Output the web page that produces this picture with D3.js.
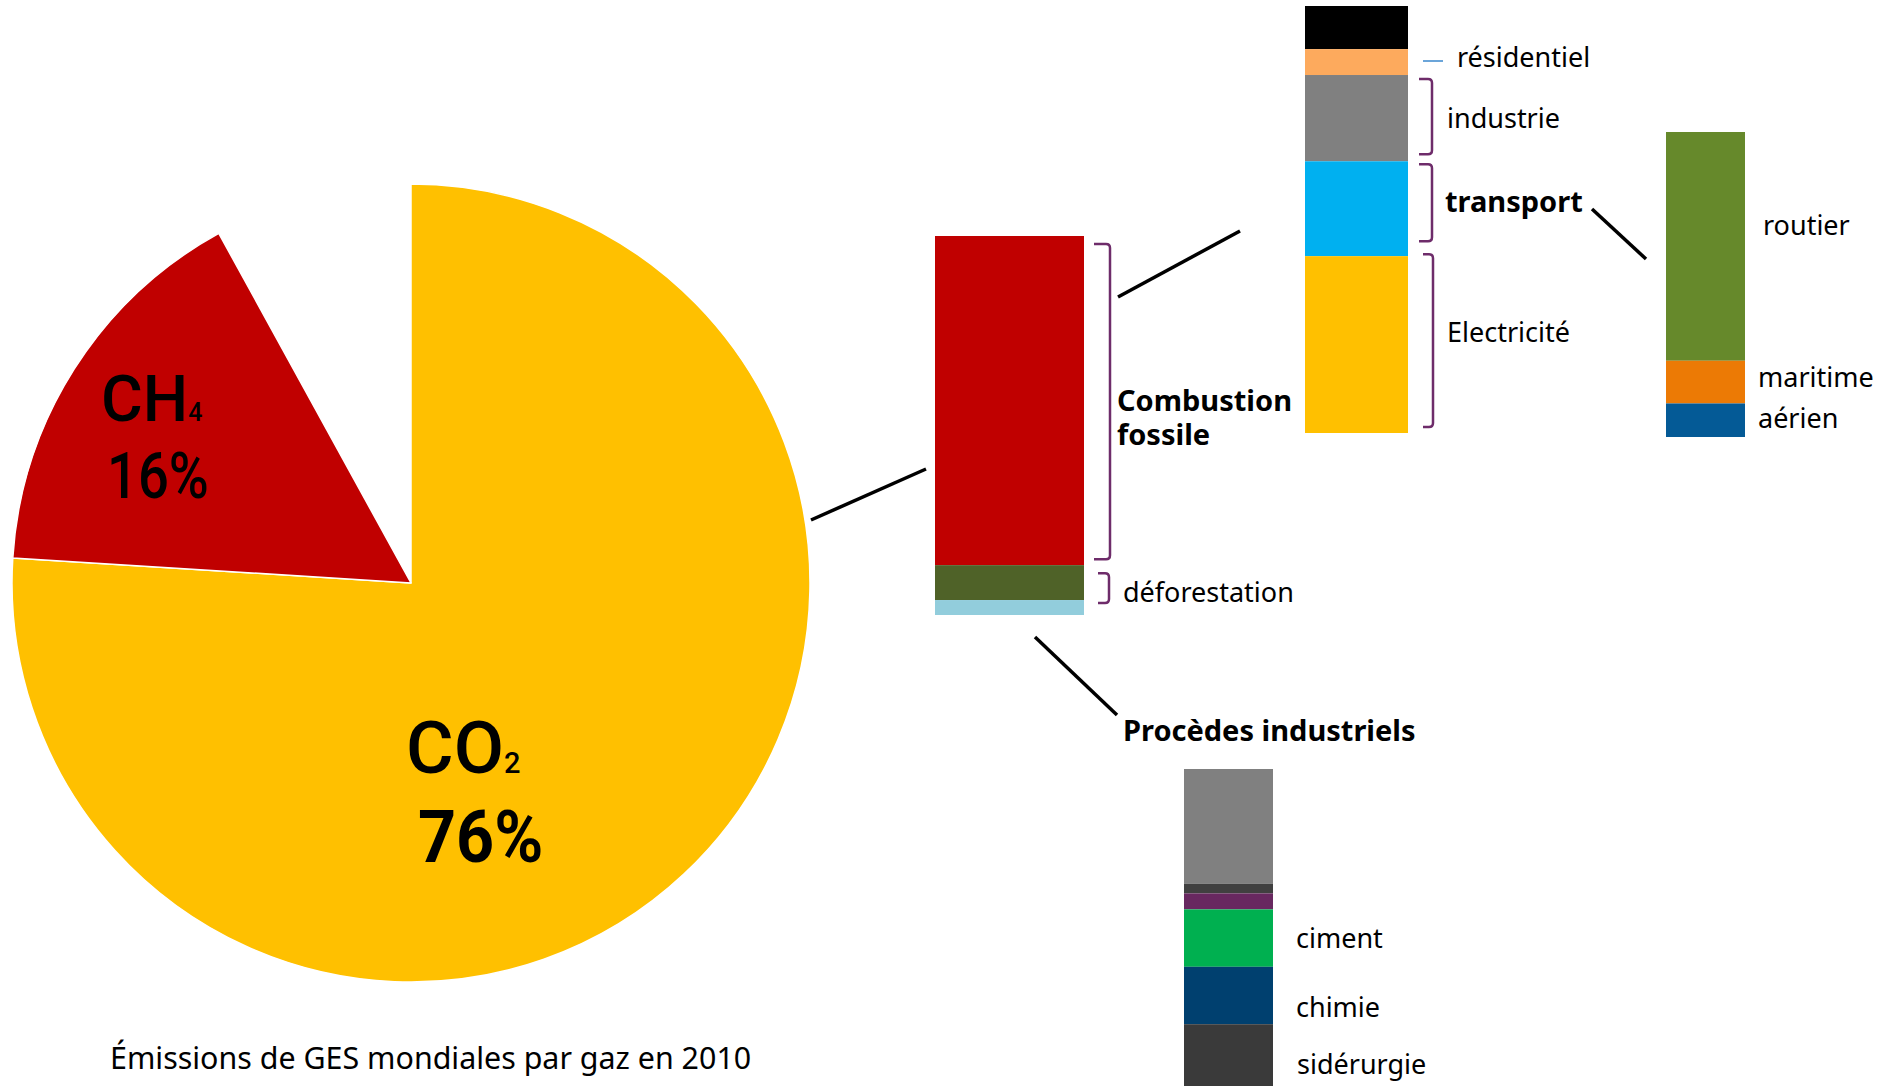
<!DOCTYPE html>
<html lang="fr">
<head>
<meta charset="utf-8">
<script src="https://cdn.jsdelivr.net/npm/d3@7"></script>
<style>
  html, body { margin: 0; padding: 0; background: #ffffff; }
  svg { display: block; }
</style>
</head>
<body>
<svg id="chart" width="1878" height="1086"></svg>
<script>
// ---------------- DATA ----------------
const gases = ["CO2", "CH4", "autres"];
const gasShares = [76, 16, 8];

const co2Sources = ["Combustion fossile", "déforestation", "Procèdes industriels"];
const co2Values = [66, 7, 3];

const fossilSectors = ["autres", "résidentiel", "industrie", "transport", "Electricité"];
const fossilValues = [10, 6, 20, 22, 41];

const transportModes = ["routier", "maritime", "aérien"];
const transportValues = [75, 14, 11];

const processes = ["autres", "divers", "non précisé", "ciment", "chimie", "sidérurgie"];
const processValues = [36, 3, 5, 18, 18, 20];

const title = "Émissions de GES mondiales par gaz en 2010";

// ---------------- STYLE ----------------
const colors = {
  gas: { "CO2": "#FFC000", "CH4": "#C00000", "autres": "none" },
  co2: { "Combustion fossile": "#C00000", "déforestation": "#4F6228", "Procèdes industriels": "#92CDDC" },
  fossil: { "autres": "#000000", "résidentiel": "#FDAA5D", "industrie": "#808080", "transport": "#00B0F0", "Electricité": "#FFC000" },
  transport: { "routier": "#66892B", "maritime": "#EC7A05", "aérien": "#045A96" },
  process: { "autres": "#808080", "divers": "#404040", "non précisé": "#682860", "ciment": "#00B050", "chimie": "#00406F", "sidérurgie": "#3A3A3A" }
};
const bracketColor = "#6E2C6A";
const labelFont = "'Noto Sans', 'DejaVu Sans', sans-serif";
const pieFont = "Roboto, 'Noto Sans', sans-serif";

const svg = d3.select("#chart");

// ---------------- PIE ----------------
const pieCenter = [411, 583], pieR = 399;
const pie = d3.pie().sort(null).value(d => d)(gasShares);
const arc = d3.arc().innerRadius(0).outerRadius(pieR);
const pieG = svg.append("g").attr("transform", `translate(${pieCenter})`);
pieG.selectAll("path").data(pie).join("path")
  .attr("d", arc)
  .attr("fill", (d, i) => colors.gas[gases[i]])
  .attr("stroke", (d, i) => gases[i] === "autres" ? "none" : "#ffffff")
  .attr("stroke-width", 1.5)
  .attr("stroke-linejoin", "round");

function chemLabel(x, y, main, sub, size, subSize, weight, sx) {
  const t = svg.append("text")
    .attr("transform", `translate(${x},${y}) scale(${sx},1)`)
    .attr("font-family", pieFont).attr("font-size", size)
    .attr("font-weight", weight).attr("fill", "#000");
  t.append("tspan").text(main);
  if (sub) t.append("tspan").attr("font-size", subSize).text(sub);
  return t;
}
chemLabel(101, 421, "CH", "4", 64, 25, 500, 1);
chemLabel(107, 498, "16%", null, 64, 0, 500, 0.85);
chemLabel(406, 773, "CO", "2", 73, 29, 500, 1);
chemLabel(418, 862, "76%", null, 73, 0, 700, 0.91);

// ---------------- STACKED BARS ----------------
function stackBar(key, names, values, x0, x1, yTop, yBottom) {
  const total = d3.sum(values);
  const y = d3.scaleLinear().domain([0, total]).range([yTop, yBottom]);
  const cum = d3.cumsum(values);
  const segs = names.map((n, i) => ({ name: n, v0: cum[i] - values[i], v1: cum[i] }));
  svg.append("g").selectAll("rect").data(segs).join("rect")
    .attr("x", x0).attr("width", x1 - x0)
    .attr("y", d => y(d.v0))
    .attr("height", d => y(d.v1) - y(d.v0))
    .attr("fill", d => colors[key][d.name]);
  const out = {};
  segs.forEach(s => out[s.name] = [y(s.v0), y(s.v1)]);
  return out;
}
const mainBar = stackBar("co2", co2Sources, co2Values, 935, 1084, 236, 615);
const fossilBar = stackBar("fossil", fossilSectors, fossilValues, 1305, 1408, 6, 433);
const transportBar = stackBar("transport", transportModes, transportValues, 1666, 1745, 132, 437);
const processBar = stackBar("process", processes, processValues, 1184, 1273, 769, 1088);

// ---------------- BRACKETS ----------------
function bracket(x0, x1, y0, y1) {
  const r = 4;
  return `M${x0},${y0} H${x1 - r} Q${x1},${y0} ${x1},${y0 + r} V${y1 - r} Q${x1},${y1} ${x1 - r},${y1} H${x0}`;
}
const brackets = [
  { seg: mainBar["Combustion fossile"], x0: 1094, x1: 1110, d0: 8, d1: -6 },
  { seg: mainBar["déforestation"], x0: 1098, x1: 1109, d0: 8, d1: 3 },
  { seg: fossilBar["industrie"], x0: 1419, x1: 1432, d0: 4, d1: -7 },
  { seg: fossilBar["transport"], x0: 1419, x1: 1432, d0: 3, d1: -15 },
  { seg: fossilBar["Electricité"], x0: 1423, x1: 1433, d0: -2, d1: -6 }
];
svg.append("g").selectAll("path").data(brackets).join("path")
  .attr("d", b => bracket(b.x0, b.x1, b.seg[0] + b.d0, b.seg[1] + b.d1))
  .attr("fill", "none").attr("stroke", bracketColor).attr("stroke-width", 2.5);

// small blue dash for résidentiel
svg.append("line").attr("x1", 1423).attr("x2", 1443).attr("y1", 61).attr("y2", 61)
  .attr("stroke", "#5B9BD5").attr("stroke-width", 1.8);

// ---------------- CONNECTOR LINES ----------------
const connectors = [
  [[811, 520], [926, 469]],
  [[1118, 297], [1240, 231]],
  [[1592, 209], [1646, 259]],
  [[1035, 637], [1117, 715]]
];
svg.append("g").selectAll("line").data(connectors).join("line")
  .attr("x1", d => d[0][0]).attr("y1", d => d[0][1])
  .attr("x2", d => d[1][0]).attr("y2", d => d[1][1])
  .attr("stroke", "#000").attr("stroke-width", 3.5);

// ---------------- TEXT LABELS ----------------
// two-line bold label "Combustion fossile"
const comb = svg.append("text").attr("font-family", labelFont)
  .attr("font-size", 29).attr("font-weight", 700).attr("fill", "#000");
co2Sources[0].split(" ").forEach((w, i) => {
  comb.append("tspan").attr("x", 1117).attr("y", 411 + i * 34).text(w);
});

const labels = [
  { t: co2Sources[1], x: 1123, y: 602 },
  { t: co2Sources[2], x: 1123, y: 741, b: true },
  { t: fossilSectors[1], x: 1457, y: 67 },
  { t: fossilSectors[2], x: 1447, y: 128 },
  { t: fossilSectors[3], x: 1445, y: 212, b: true },
  { t: fossilSectors[4], x: 1447, y: 342 },
  { t: transportModes[0], x: 1763, y: 235 },
  { t: transportModes[1], x: 1758, y: 387 },
  { t: transportModes[2], x: 1758, y: 428 },
  { t: processes[3], x: 1296, y: 948 },
  { t: processes[4], x: 1296, y: 1017 },
  { t: processes[5], x: 1297, y: 1074 },
  { t: title, x: 110, y: 1069, size: 30.4 }
];
svg.append("g").selectAll("text").data(labels).join("text")
  .attr("x", d => d.x).attr("y", d => d.y)
  .attr("font-family", labelFont)
  .attr("font-size", d => d.size || (d.b ? 29 : 27))
  .attr("font-weight", d => d.b ? 700 : 400)
  .attr("fill", "#000")
  .text(d => d.t);
</script>
</body>
</html>
